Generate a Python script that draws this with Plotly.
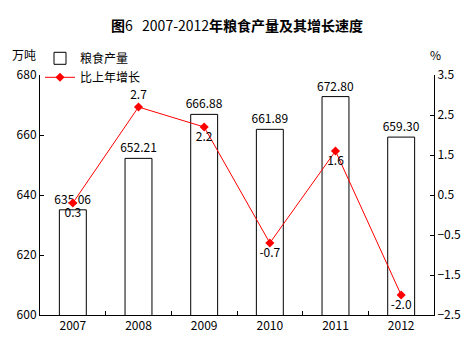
import plotly.graph_objects as go

years = ["2007", "2008", "2009", "2010", "2011", "2012"]
output = [635.06, 652.21, 666.88, 661.89, 672.80, 659.30]
growth = [0.3, 2.7, 2.2, -0.7, 1.6, -2.0]
growth_pos = ["bottom center", "top center", "bottom center", "bottom center", "bottom center", "bottom center"]

FONT = "Noto Sans CJK SC, DejaVu Sans, sans-serif"

fig = go.Figure()
fig.add_trace(go.Bar(
    x=years, y=output, name="粮食产量",
    marker=dict(color="white", line=dict(color="black", width=1)),
    width=0.41,
    text=[f"{v:.2f}" for v in output], textposition="outside",
    constraintext="none",
    textfont=dict(size=12, color="black"), cliponaxis=False,
))
fig.add_trace(go.Scatter(
    x=years, y=growth, name="比上年增长", yaxis="y2",
    mode="lines+markers+text",
    line=dict(color="red", width=1),
    marker=dict(symbol="diamond", size=7, color="red"),
    text=[f"{v:.1f}" for v in growth], textposition=growth_pos,
    textfont=dict(size=12, color="black"), cliponaxis=False,
))

fig.update_layout(
    width=474, height=352,
    margin=dict(l=40, r=40, t=75, b=37),
    paper_bgcolor="white", plot_bgcolor="white",
    font=dict(family=FONT, size=12, color="black"),
    title=dict(
        text="<b>图</b>6   2007-2012<b>年粮食产量及其增长速度</b>",
        x=0.5, xanchor="center", y=0.925, yanchor="middle",
        font=dict(size=14, family=FONT, color="black"),
    ),
    showlegend=True,
    legend=dict(x=0.0, y=1.13, xanchor="left", yanchor="top",
                bgcolor="rgba(0,0,0,0)", font=dict(size=12),
                tracegroupgap=0, itemwidth=30),
    xaxis=dict(showline=True, linecolor="black", linewidth=1,
               ticks="inside", tickson="boundaries", ticklen=4, tickcolor="black",
               showgrid=False, tickfont=dict(size=12)),
    yaxis=dict(range=[600, 680], dtick=20, showline=True, linecolor="black",
               linewidth=1, ticks="inside", ticklen=4, tickcolor="black",
               showgrid=False, zeroline=False, tickfont=dict(size=12)),
    yaxis2=dict(range=[-2.5, 3.5], dtick=1, tick0=-2.5, overlaying="y", side="right",
                showline=True, linecolor="black", linewidth=1, ticks="inside",
                ticklen=4, tickcolor="black", showgrid=False, zeroline=False,
                tickfont=dict(size=12)),
    bargap=0.59,
    annotations=[
        dict(text="万吨", x=0, y=1.0, xref="paper", yref="paper", xanchor="right",
             yanchor="bottom", xshift=-2, yshift=10, showarrow=False, font=dict(size=12)),
        dict(text="%", x=1, y=1.0, xref="paper", yref="paper", xanchor="left",
             yanchor="bottom", xshift=-6, yshift=10, showarrow=False, font=dict(size=12)),
    ],
)

fig.write_html("out.html")
